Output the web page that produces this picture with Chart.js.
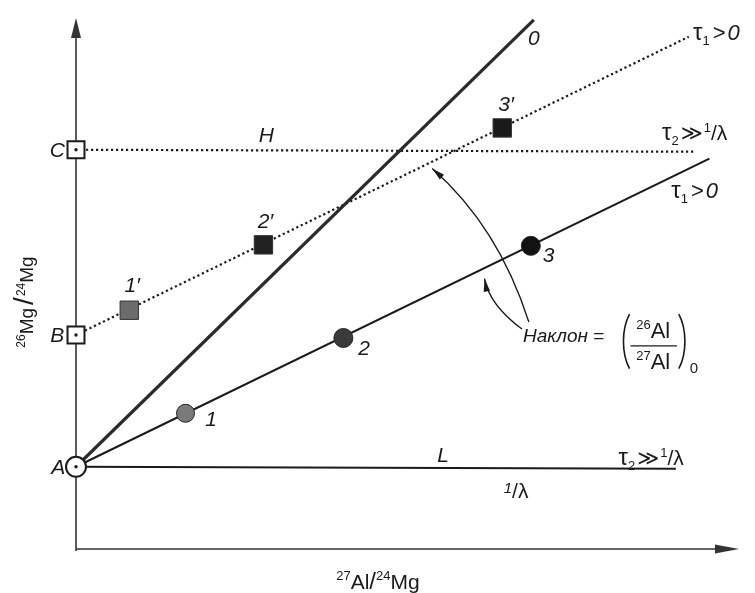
<!DOCTYPE html>
<html><head><meta charset="utf-8">
<script src="https://cdn.jsdelivr.net/npm/chart.js@4/dist/chart.umd.min.js"></script>
<style>html,body{margin:0;padding:0;background:#fff}canvas{display:block}</style>
</head><body>
<canvas id="c" width="755" height="593"></canvas>
<script>
// Al–Mg isochron diagram: 26Mg/24Mg versus 27Al/24Mg (schematic units)

// reference compositions on the vertical axis
const refLabels = ['A', 'B', 'C'];
const refX = [0, 0, 0];
const refY = [0.83, 2.16, 4.03];

// minerals, closed points 1-3
const closedLabels = ['1', '2', '3'];
const closedX = [1.11, 2.71, 4.61];
const closedY = [1.37, 2.13, 3.06];

// minerals, square points 1'-3'
const squareLabels = ['1\u2032', '2\u2032', '3\u2032'];
const squareX = [0.54, 1.90, 4.32];
const squareY = [2.41, 3.07, 4.25];

// straight lines: start and end
const line0X = [0, 4.64],      line0Y = [0.83, 5.34];
const isoClosedX = [0, 6.42],  isoClosedY = [0.83, 3.94];
const isoSquareX = [0, 6.21],  isoSquareY = [2.16, 5.17];
const lineHX = [0, 6.27],      lineHY = [4.03, 4.01];
const lineLX = [0, 6.08],      lineLY = [0.83, 0.81];

const pts = (xs, ys) => xs.map((x, i) => ({ x: x, y: ys[i] }));
const FAM = "'Liberation Sans', 'DejaVu Sans', sans-serif";
const NARROW = "'Liberation Sans Narrow', 'Liberation Sans', sans-serif";
const INK = '#1a1a1a';

function fontOf(p) { return (p[2] ? 'italic ' : '') + p[1] + 'px ' + (p[5] || FAM); }
// draws a run of text pieces: [text, size, italic, dy, gapAfter, family]
function rich(ctx, x, y, parts, align) {
  let w = 0;
  parts.forEach(p => { ctx.font = fontOf(p); p.w = ctx.measureText(p[0]).width; w += p.w + (p[4] || 0); });
  let cx = align === 'center' ? x - w / 2 : (align === 'right' ? x - w : x);
  ctx.textAlign = 'left';
  ctx.textBaseline = 'alphabetic';
  parts.forEach(p => { ctx.font = fontOf(p); ctx.fillText(p[0], cx, y + (p[3] || 0)); cx += p.w + (p[4] || 0); });
}

function arrowHead(ctx, x, y, ang, len, half) {
  ctx.beginPath();
  ctx.moveTo(x, y);
  ctx.lineTo(x - len * Math.cos(ang) + half * Math.sin(ang), y - len * Math.sin(ang) - half * Math.cos(ang));
  ctx.lineTo(x - len * Math.cos(ang) - half * Math.sin(ang), y - len * Math.sin(ang) + half * Math.cos(ang));
  ctx.closePath();
  ctx.fill();
}

// tall thin bracket, dir = +1 for "(" and -1 for ")"
function paren(ctx, x, yTop, yBot, dir) {
  const bulge = 9 * dir;
  ctx.beginPath();
  ctx.moveTo(x + bulge * 0.55, yTop);
  ctx.bezierCurveTo(x - bulge * 0.35, yTop + (yBot - yTop) * 0.28, x - bulge * 0.35, yBot - (yBot - yTop) * 0.28, x + bulge * 0.55, yBot);
  ctx.stroke();
}

const decor = {
  id: 'decor',
  beforeDatasetsDraw(chart) {
    const { ctx, scales: { x, y } } = chart;
    ctx.save();
    ctx.strokeStyle = '#333';
    ctx.fillStyle = '#333';
    ctx.lineWidth = 1.6;
    const x0 = x.getPixelForValue(0), y0 = y.getPixelForValue(0);
    const yTop = y.getPixelForValue(5.36), xEnd = x.getPixelForValue(6.72);
    ctx.beginPath(); ctx.moveTo(x0, y0 + 2); ctx.lineTo(x0, yTop + 10); ctx.stroke();
    ctx.beginPath(); ctx.moveTo(x0, y0); ctx.lineTo(xEnd - 10, y0); ctx.stroke();
    arrowHead(ctx, x0, yTop, -Math.PI / 2, 20, 5);
    arrowHead(ctx, xEnd, y0, 0, 24, 4.5);
    ctx.restore();
  },
  afterDatasetsDraw(chart) {
    const { ctx, scales: { x, y } } = chart;
    const px = v => x.getPixelForValue(v), py = v => y.getPixelForValue(v);
    ctx.save();
    ctx.fillStyle = INK;

    // point and line labels
    const simple = [
      ['0', 4.64, 5.16], ['H', 1.93, 4.18], ['L', 3.72, 0.95],
      [closedLabels[0], 1.37, 1.31], [closedLabels[1], 2.92, 2.03], [closedLabels[2], 4.79, 2.97],
      [squareLabels[0], 0.57, 2.66], [squareLabels[1], 1.92, 3.31], [squareLabels[2], 4.36, 4.49],
      [refLabels[0], -0.18, 0.83], [refLabels[1], -0.19, 2.16], [refLabels[2], -0.19, 4.03]
    ];
    simple.forEach(s => rich(ctx, px(s[1]), py(s[2]) + 7, [[s[0], 21, true]], 'center'));

    const tau1 = [['\u03C4', 24, false], ['1', 13, false, 5, 3], ['>', 22, false, 0, 2], ['0', 22, true]];
    const tau2 = [['\u03C4', 24, false], ['2', 13, false, 5, 2], ['\u226B', 21, false, 0, 1], ['1', 13, false, -8], ['/', 21, false], ['\u03BB', 21, false]];
    rich(ctx, px(6.49), py(5.21) + 7, tau1.map(p => p.slice()), 'center');
    rich(ctx, px(6.27), py(4.21) + 8, tau2.map(p => p.slice()), 'center');
    rich(ctx, px(6.27), py(3.61) + 7, tau1.map(p => p.slice()), 'center');
    rich(ctx, px(5.83), py(0.93) + 8, tau2.map(p => p.slice()), 'center');
    rich(ctx, px(4.46), py(0.60) + 8, [['1', 15, true, -5], ['/', 21, false], ['\u03BB', 21, false]], 'center');

    // slope annotation
    rich(ctx, px(4.53), py(2.09), [['\u041D\u0430\u043A\u043B\u043E\u043D', 19, true, 0, 0, NARROW], [' = ', 19, false]], 'left');
    ctx.strokeStyle = INK;
    ctx.lineWidth = 1.6;
    paren(ctx, px(5.56), py(2.37), py(1.82), 1);
    paren(ctx, px(6.16), py(2.37), py(1.82), -1);
    rich(ctx, px(5.85), py(2.13), [['26', 13, false, -9], ['Al', 22, false]], 'center');
    rich(ctx, px(5.85), py(1.82), [['27', 13, false, -9], ['Al', 22, false]], 'center');
    rich(ctx, px(6.22), py(1.78), [['0', 15, false]], 'left');
    ctx.lineWidth = 1.4;
    ctx.beginPath(); ctx.moveTo(px(5.62), py(2.05)); ctx.lineTo(px(6.09), py(2.05)); ctx.stroke();

    // curved arrows towards the two isochrons
    const curves = [
      [[4.59, 2.29], [4.28, 3.255], [3.61, 3.84]],
      [[4.52, 2.22], [4.19, 2.465], [4.14, 2.73]]
    ];
    ctx.lineWidth = 1.4;
    curves.forEach(c => {
      const p0 = [px(c[0][0]), py(c[0][1])], cp = [px(c[1][0]), py(c[1][1])], p2 = [px(c[2][0]), py(c[2][1])];
      ctx.beginPath(); ctx.moveTo(p0[0], p0[1]); ctx.quadraticCurveTo(cp[0], cp[1], p2[0], p2[1]); ctx.stroke();
      arrowHead(ctx, p2[0], p2[1], Math.atan2(p2[1] - cp[1], p2[0] - cp[0]), 13, 3.2);
    });

    // axis titles
    rich(ctx, px(3.06), 589, [['27', 13, false, -9], ['Al', 21, false], ['/', 24, false], ['24', 13, false, -9], ['Mg', 21, false]], 'center');
    ctx.translate(33, 302);
    ctx.rotate(-Math.PI / 2);
    rich(ctx, 0, 0, [['26', 12, false, -8], ['Mg', 19, false, 0, 3], ['/', 28, false, 0, 1], ['24', 12, false, -8], ['Mg', 19, false]], 'center');
    ctx.restore();
  }
};

const dotted = [2.2, 2.8];
new Chart(document.getElementById('c'), {
  type: 'scatter',
  data: {
    datasets: [
      { data: pts(refX, refY), pointStyle: 'circle', radius: 1.7, backgroundColor: INK, borderWidth: 0 },
      { data: pts(refX, refY), pointStyle: ['circle', 'rect', 'rect'], radius: [10, 12, 12],
        backgroundColor: '#fff', borderColor: INK, borderWidth: 2 },
      { data: pts(closedX, closedY), pointStyle: 'circle', radius: [9, 9.5, 9.5],
        backgroundColor: ['#7a7a7a', '#3a3a3a', '#121212'], borderColor: '#222', borderWidth: 1 },
      { data: pts(squareX, squareY), pointStyle: 'rect', radius: 13,
        backgroundColor: ['#6b6b6b', '#222', '#1a1a1a'], borderColor: '#333', borderWidth: 1 },
      { data: pts(line0X, line0Y), showLine: true, pointRadius: 0, borderColor: '#2b2b2b', borderWidth: 3.2 },
      { data: pts(isoClosedX, isoClosedY), showLine: true, pointRadius: 0, borderColor: INK, borderWidth: 2 },
      { data: pts(lineLX, lineLY), showLine: true, pointRadius: 0, borderColor: INK, borderWidth: 2 },
      { data: pts(isoSquareX, isoSquareY), showLine: true, pointRadius: 0, borderColor: INK, borderWidth: 2.2, borderDash: dotted },
      { data: pts(lineHX, lineHY), showLine: true, pointRadius: 0, borderColor: INK, borderWidth: 2.2, borderDash: dotted }
    ].map(d => Object.assign({ clip: false }, d))
  },
  options: {
    responsive: false,
    animation: false,
    layout: { padding: { left: 76, right: 5, top: 9, bottom: 44 } },
    plugins: { legend: { display: false }, tooltip: { enabled: false } },
    scales: {
      x: { type: 'linear', min: 0, max: 6.74, display: false },
      y: { type: 'linear', min: 0, max: 5.4, display: false }
    },
    events: []
  },
  plugins: [decor]
});
</script>
</body></html>
